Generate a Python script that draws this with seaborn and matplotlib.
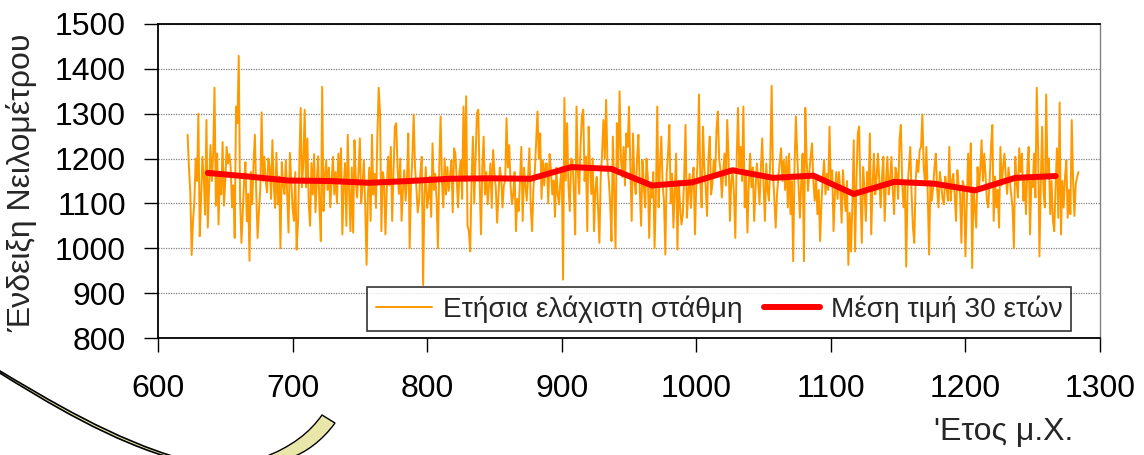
import numpy as np
import pandas as pd
import seaborn as sns
import matplotlib
matplotlib.use("Agg")
import matplotlib.pyplot as plt
from matplotlib.patches import PathPatch
from matplotlib.path import Path

# ---------------- data ----------------
first_year = 622
# annual minimum level readings, in consecutive chunks
minima_622_711 = [
    1253, 1180, 1125, 985, 1060, 1102, 1200, 1150, 1300, 1027,
    1110, 1204, 1160, 1075, 1286, 1046, 1140, 1230, 1150, 1210,
    1358, 1095, 1211, 1053, 1170, 1120, 1237, 1095, 1150, 1226,
    1189, 1210, 1181, 1091, 1140, 1023, 1316, 1279, 1429, 1106,
    1012, 1080, 1151, 1192, 1060, 1121, 972, 1170, 1098, 1190,
    1253, 1125, 1023, 1080, 1132, 1303, 1150, 1204, 1151, 1125,
    1200, 1181, 1110, 1241, 1144, 1090, 1213, 1098, 1160, 1000,
    1192, 1140, 1121, 1196, 1120, 1035, 1213, 1150, 1091, 1061,
    1170, 997, 1053, 1180, 1313, 1136, 1190, 1309, 1136, 1245]
minima_712_830 = [
    1100, 1050, 1190, 1120, 1210, 1080, 1150, 1205, 1090, 1016,
    1360, 1083, 1160, 1196, 1130, 1180, 1091, 1150, 1204, 1120,
    1170, 1100, 1211, 1150, 1223, 1031, 1140, 1190, 1050, 1253,
    1130, 1038, 1180, 1035, 1241, 1150, 1113, 1170, 1245, 1100,
    1140, 1196, 1090, 963, 1121, 1180, 1061, 1253, 1120, 1166,
    1090, 1249, 1358, 1302, 1038, 1170, 1151, 1031, 1130, 1204,
    1140, 1226, 1061, 1170, 1271, 1279, 1180, 1121, 1200, 1061,
    1130, 1174, 1106, 1150, 1256, 1000, 1140, 1200, 1298, 1180,
    1136, 1080, 1106, 1170, 1204, 918, 1120, 1181, 1090, 1113,
    1160, 1070, 1234, 1130, 1166, 1110, 1000, 1180, 1294, 1150,
    1091, 1200, 1120, 1181, 1128, 1160, 1196, 1080, 1223, 1211,
    1150, 1091, 1170, 1196, 1110, 1316, 1150, 1339, 1050]
minima_831_949 = [
    1038, 993, 1150, 1249, 1100, 1200, 1301, 1309, 1150, 1031,
    1180, 1249, 1120, 1170, 1098, 1140, 1189, 1090, 1219, 1170,
    1136, 1057, 1120, 1180, 1159, 1091, 1140, 1151, 1290, 1180,
    1230, 1140, 1098, 1121, 1170, 1038, 1110, 1083, 1150, 1226,
    1061, 1180, 1144, 1106, 1160, 1223, 1090, 1038, 1136, 1170,
    1240, 1305, 1200, 1256, 1110, 1196, 1140, 1189, 1189, 1100,
    1210, 1174, 1120, 1151, 1070, 1180, 1121, 1098, 1150, 1181,
    930, 1335, 1151, 1279, 1140, 1083, 1200, 1196, 1130, 1031,
    1316, 1170, 1121, 1230, 1294, 1309, 1150, 1204, 1038, 1271,
    1180, 1121, 1200, 1038, 1130, 1159, 1090, 1012, 1160, 1211,
    1286, 1200, 1331, 1190, 1151, 1100, 1016, 1249, 1120, 1000,
    1279, 1180, 1350, 1200, 1159, 1226, 1140, 1256, 1226]
minima_950_1068 = [
    1316, 1180, 1061, 1256, 1150, 1121, 1200, 1253, 1130, 1050,
    1196, 1140, 1091, 1200, 1159, 1023, 1140, 1113, 1170, 1000,
    1120, 1316, 1091, 1180, 1249, 1140, 1106, 986, 1166, 1210,
    1275, 1100, 1166, 1046, 1130, 1211, 997, 1150, 1091, 1053,
    1076, 1160, 1275, 1068, 1120, 1166, 1090, 1151, 1180, 1031,
    1140, 1196, 1343, 1150, 1091, 1271, 1180, 1136, 1072, 1200,
    1249, 1120, 1144, 1196, 1160, 1264, 1305, 1200, 1174, 1113,
    1170, 1211, 1140, 1286, 1200, 1061, 1150, 1174, 1120, 1023,
    1196, 1313, 1180, 1226, 1150, 1316, 1091, 1170, 1035, 1140,
    1211, 1136, 1180, 1061, 1130, 1189, 1150, 1098, 1180, 1245,
    1140, 1061, 1189, 1130, 1106, 1200, 1362, 1166, 1110, 1046,
    1120, 1159, 1190, 1223, 1150, 1196, 1130, 1204, 1091]
minima_1069_1187 = [
    1211, 1076, 1150, 971, 1180, 1294, 1211, 1140, 1068, 1150,
    1211, 971, 1313, 1200, 1128, 1170, 1204, 1234, 1150, 1106,
    1160, 1076, 1130, 1016, 1100, 1159, 1196, 1120, 1166, 1130,
    1271, 1140, 1174, 1038, 1120, 1170, 1110, 1170, 1130, 1057,
    1174, 1120, 1083, 1150, 963, 1079, 993, 1100, 1241, 993,
    1150, 1256, 1271, 1120, 1012, 1181, 1130, 1061, 1170, 1136,
    1256, 1031, 1140, 1211, 1120, 1159, 1211, 1150, 1091, 1160,
    1204, 1061, 1150, 1204, 1120, 1151, 1204, 1130, 1076, 1180,
    1166, 1110, 1241, 1275, 1150, 1091, 1140, 959, 1136, 1180,
    1226, 1120, 1046, 1012, 1150, 1196, 1170, 1219, 1226, 1298,
    1180, 1144, 1226, 1120, 986, 1150, 1106, 1136, 1180, 1211,
    1130, 1091, 1170, 1144, 1110, 1098, 1160, 1136, 1106]
minima_1188_1284 = [
    1226, 1106, 1150, 1166, 1120, 1061, 1174, 1140, 1121, 1012,
    1150, 1136, 982, 1100, 1211, 1130, 1234, 956, 1136, 1090,
    1046, 1181, 1130, 1174, 1241, 1150, 1211, 1160, 1106, 1091,
    1150, 1226, 1275, 1061, 1160, 1091, 1130, 1046, 1226, 1140,
    1181, 1211, 1160, 1121, 1180, 1151, 1120, 1091, 1000, 1204,
    1150, 1113, 1223, 1170, 1211, 1106, 1150, 1076, 1180, 1226,
    1031, 1150, 1136, 1211, 1113, 1358, 1226, 982, 1150, 1271,
    1130, 1091, 1343, 1166, 1200, 1076, 1150, 1061, 1038, 1140,
    1223, 1068, 1325, 1031, 1150, 1091, 1160, 1196, 1068, 1130,
    1076, 1286, 1150, 1072, 1144, 1159, 1170]

# 30-year means (centre year of each 30-year window)
mean_years = [637, 667, 697, 727, 757, 787, 817, 847, 877, 907, 937,
              967, 997, 1027, 1057, 1087, 1117, 1147, 1177, 1207, 1237, 1267]
mean_values = [1168, 1160, 1151, 1150, 1146, 1150, 1155, 1156, 1155, 1181, 1177,
               1140, 1147, 1174, 1157, 1162, 1121, 1148, 1144, 1129, 1157, 1161]

label_annual = "Ετήσια ελάχιστη στάθμη"
label_mean = "Μέση τιμή 30 ετών"
xlabel_text = "'Ετος μ.Χ."
ylabel_text = "Ένδειξη Νειλομέτρου"
x_ticks = [600, 700, 800, 900, 1000, 1100, 1200, 1300]
y_ticks = [800, 900, 1000, 1100, 1200, 1300, 1400, 1500]

values = (minima_622_711 + minima_712_830 + minima_831_949 +
          minima_950_1068 + minima_1069_1187 + minima_1188_1284)
years = np.arange(first_year, first_year + len(values))
df_annual = pd.DataFrame({"year": years, "level": values})
df_mean = pd.DataFrame({"year": mean_years, "level": mean_values})

# ---------------- figure ----------------
sns.set_theme(style="white")
plt.rcParams["font.family"] = ["Liberation Sans", "DejaVu Sans"]

W, H = 1144, 455
fig = plt.figure(figsize=(W / 100, H / 100), dpi=100)
ax = fig.add_axes([158 / W, (H - 338) / H, (1100 - 158) / W, (338 - 24) / H])

sns.lineplot(data=df_annual, x="year", y="level", ax=ax, color="#FF9900",
             linewidth=1.4, label=label_annual)
sns.lineplot(data=df_mean, x="year", y="level", ax=ax, color="#FF0000",
             linewidth=4.3, label=label_mean)

ax.set_xlim(600, 1300)
ax.set_ylim(800, 1500)
ax.set_xticks(x_ticks)
ax.set_yticks(y_ticks)
ax.tick_params(axis="both", labelsize=23, colors="black")
ax.tick_params(axis="y", direction="out", length=10, width=1.0, pad=13, left=True)
ax.tick_params(axis="x", direction="out", length=10, width=1.0, pad=16, bottom=True)
ax.yaxis.grid(True, linestyle=(0, (1, 1)), color="#808080", linewidth=0.9)
ax.xaxis.grid(False)
ax.set_axisbelow(True)

for side in ["left", "bottom", "top"]:
    ax.spines[side].set_color("black")
    ax.spines[side].set_linewidth(1.3)
ax.spines["right"].set_color("#808080")
ax.spines["right"].set_linewidth(1.0)

ax.set_xlabel("")
ax.set_ylabel("")

leg = ax.legend(loc="lower right", bbox_to_anchor=(0.9695, 0.022), ncol=2,
                fontsize=20.2, frameon=True, fancybox=False, borderpad=0.3,
                handlelength=2.0, handletextpad=0.4, columnspacing=0.75,
                borderaxespad=0.0)
leg.get_frame().set_edgecolor("black")
leg.get_frame().set_linewidth(1.2)

fig.text(22 / W, 1 - 183 / H, ylabel_text, fontsize=23, rotation=90,
         ha="center", va="center")
fig.text(1004 / W, 1 - 432 / H, xlabel_text, fontsize=23, ha="center", va="center")

# decorative curved arrow shape at lower left (slide artwork)
def px(x, y):
    return (x / W, 1 - y / H)

# left side: thin band with black outline
left_band = Path([px(-5, 368), px(50, 401), px(115, 440), px(182, 459),
                  px(178, 460), px(112, 442), px(48, 403), px(-5, 370),
                  px(-5, 368)],
                 [Path.MOVETO, Path.CURVE4, Path.CURVE4, Path.CURVE4,
                  Path.LINETO, Path.CURVE4, Path.CURVE4, Path.CURVE4,
                  Path.CLOSEPOLY])
fig.add_artist(PathPatch(left_band, transform=fig.transFigure, facecolor="#E8E6A8",
                         edgecolor="black", linewidth=1.2, clip_on=False))
# right side: rising band ending in a cut tip
right_band = Path([px(262, 458), px(292, 447), px(310, 432), px(322, 415),
                   px(335, 423), px(322, 441), px(305, 453), px(290, 458),
                   px(262, 458)],
                  [Path.MOVETO, Path.CURVE4, Path.CURVE4, Path.CURVE4,
                   Path.LINETO, Path.CURVE4, Path.CURVE4, Path.CURVE4,
                   Path.CLOSEPOLY])
fig.add_artist(PathPatch(right_band, transform=fig.transFigure, facecolor="#E8E6A8",
                         edgecolor="black", linewidth=1.0, clip_on=False))

fig.savefig("out.png", dpi=100)
